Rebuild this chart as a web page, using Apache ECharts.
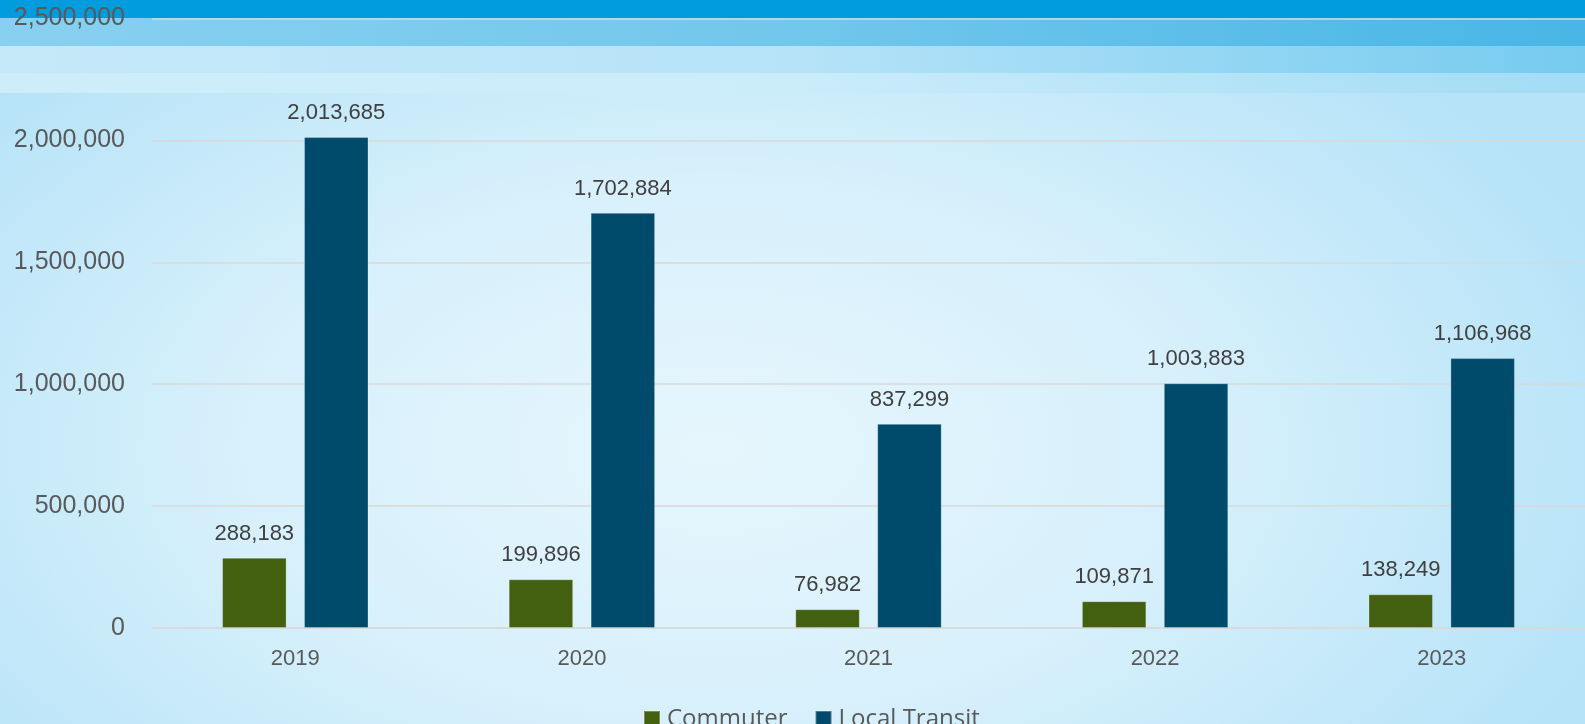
<!DOCTYPE html>
<html>
<head>
<meta charset="utf-8">
<script src="https://cdn.jsdelivr.net/npm/echarts@6/dist/echarts.min.js"></script>
<style>
  html, body { margin: 0; padding: 0; }
  #chart {
    width: 1585px;
    height: 724px;
    background:
      linear-gradient(to right, #009CDE, #009CDE) 0 0 / 100% 18px no-repeat,
      linear-gradient(to right, #88D0F0, #72C7EC 50%, #48B6E6) 0 18px / 100% 28px no-repeat,
      linear-gradient(to right, #C6E9F9, #B6E3F8 50%, #76CBEF) 0 46px / 100% 27px no-repeat,
      linear-gradient(to right, #CDEDFA, #CBECFA 50%, #A2DCF5) 0 73px / 100% 20px no-repeat,
      radial-gradient(ellipse 60% 75% at 45% 62%, #E6F6FD 0%, #D7F0FB 50%, #B6E3F8 100%) 0 0 / 100% 100% no-repeat,
      #BCE5F8;
  }
</style>
</head>
<body>
<div id="chart"></div>
<script>
// Annual ridership by service type
const years = ['2019', '2020', '2021', '2022', '2023'];
const commuter = [288183, 199896, 76982, 109871, 138249];
const localTransit = [2013685, 1702884, 837299, 1003883, 1106968];
const seriesNames = ['Commuter', 'Local Transit'];

const fmt = v => Number(v).toLocaleString('en-US');

const chart = echarts.init(document.getElementById('chart'), null, { renderer: 'canvas' });

const barLabel = {
  show: true,
  position: 'top',
  distance: 13,
  fontFamily: 'Liberation Sans, Arial, sans-serif',
  fontSize: 22,
  color: '#404040',
  formatter: p => fmt(p.value)
};

chart.setOption({
  animation: false,
  backgroundColor: 'transparent',
  grid: { left: 152, right: 0, top: 18.5, bottom: 96, containLabel: false },
  legend: {
    data: seriesNames,
    left: 643,
    top: 707,
    padding: 0,
    itemWidth: 16,
    itemHeight: 16,
    itemGap: 27,
    icon: 'rect',
    textStyle: {
      fontFamily: 'Open Sans, sans-serif',
      fontSize: 24,
      color: '#595959',
      padding: [0, 0, 5, 2]
    }
  },
  xAxis: {
    type: 'category',
    data: years,
    axisTick: { show: false },
    axisLine: { show: true, lineStyle: { color: '#D9D9D9', width: 1.5 } },
    axisLabel: {
      margin: 20,
      fontFamily: 'Liberation Sans, Arial, sans-serif',
      fontSize: 22,
      color: '#595959'
    }
  },
  yAxis: {
    type: 'value',
    min: 0,
    max: 2500000,
    interval: 500000,
    axisLine: { show: false },
    axisTick: { show: false },
    splitLine: { lineStyle: { color: '#D9D9D9', width: 1.5 } },
    axisLabel: {
      margin: 27,
      fontFamily: 'Liberation Sans, Arial, sans-serif',
      fontSize: 25,
      color: '#595959',
      formatter: v => fmt(v)
    }
  },
  series: [
    {
      name: seriesNames[0],
      type: 'bar',
      data: commuter,
      barWidth: 64.5,
      barGap: '27%',
      itemStyle: { color: '#426010', borderColor: 'rgba(255,255,255,0.28)', borderWidth: 1 },
      label: barLabel
    },
    {
      name: seriesNames[1],
      type: 'bar',
      data: localTransit,
      barWidth: 64.5,
      itemStyle: { color: '#004B6B', borderColor: 'rgba(255,255,255,0.28)', borderWidth: 1 },
      label: barLabel
    }
  ]
});
</script>
</body>
</html>
